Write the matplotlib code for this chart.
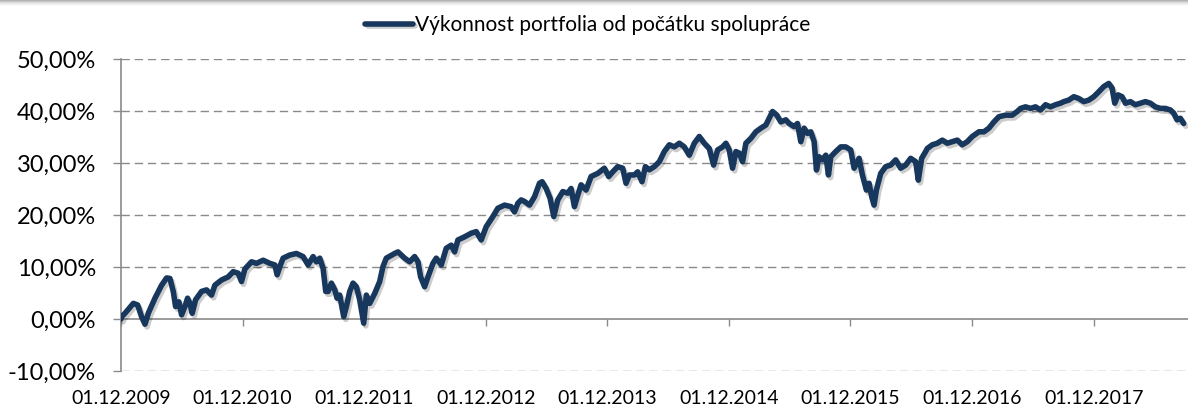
import datetime as dt

import matplotlib
matplotlib.use("Agg")
import matplotlib.pyplot as plt
import matplotlib.dates as mdates
import matplotlib.patches as mpatches
import matplotlib.patheffects as pe

plt.rcParams["font.family"] = ["Lato", "DejaVu Sans"]

# --- data: days since 01.12.2009, cumulative performance in % ---
START = dt.date(2009, 12, 1)
DAYS = [
    0, 2, 12, 37, 50, 62, 72, 82, 102, 122, 137, 147, 157, 164, 174, 182, 192,
    200, 207, 214, 224, 242, 257, 272, 282, 302, 322, 337, 352, 362, 372, 392,
    407, 427, 447, 462, 469, 479, 487, 507, 527, 547, 562, 577, 587, 597, 607,
    615, 622, 632, 642, 649, 657, 669, 677, 687, 697, 707, 717, 729, 737, 747,
    762, 777, 787, 797, 822, 832, 852, 867, 882, 892, 900, 912, 922, 937, 947,
    962, 977, 992, 1002, 1012, 1032, 1052, 1067, 1082, 1097, 1117, 1132, 1152,
    1172, 1182, 1192, 1202, 1212, 1227, 1242, 1257, 1265, 1277, 1289, 1300,
    1312, 1327, 1342, 1352, 1362, 1372, 1382, 1397, 1412, 1432, 1452, 1465,
    1477, 1492, 1507, 1517, 1527, 1542, 1552, 1565, 1575, 1587, 1602, 1617,
    1632, 1647, 1662, 1677, 1692, 1707, 1722, 1737, 1752, 1767, 1780, 1792,
    1807, 1817, 1827, 1837, 1847, 1857, 1867, 1877, 1892, 1907, 1922, 1937,
    1947, 1957, 1970, 1982, 1997, 2007, 2022, 2032, 2042, 2052, 2062, 2072,
    2082, 2089, 2097, 2107, 2117, 2125, 2132, 2147, 2162, 2177, 2192, 2202,
    2217, 2227, 2239, 2247, 2255, 2262, 2269, 2282, 2297, 2312, 2327, 2342,
    2357, 2372, 2387, 2395, 2405, 2417, 2422, 2437, 2452, 2467, 2482, 2497,
    2512, 2527, 2542, 2557, 2577, 2592, 2607, 2622, 2637, 2657, 2677, 2692,
    2702, 2717, 2732, 2747, 2762, 2777, 2792, 2807, 2822, 2832, 2847, 2862,
    2877, 2892, 2907, 2922, 2937, 2952, 2967, 2977, 2985, 2995, 3007, 3017,
    3032, 3047, 3062, 3077, 3092, 3107, 3122, 3137, 3152, 3162, 3172, 3182,
    3192,
]
PERF = [
    0.0, 0.45, 1.1, 3.0, 2.7, 0.4, -1.0, 1.1, 4.0, 6.5, 7.9, 7.8, 5.3, 2.4, 3.3,
    0.8, 2.4, 4.0, 3.0, 1.1, 3.7, 5.3, 5.6, 4.6, 6.5, 7.5, 8.1, 9.1, 8.8, 7.2,
    9.6, 11.0,
    10.7, 11.3, 10.7, 10.4, 8.5, 10.4, 11.7, 12.3, 12.6, 12.0, 10.4, 12.0, 11.0,
    11.7, 9.75, 5.3, 5.3, 6.9, 5.6, 4.0, 4.6, 0.45, 2.4, 5.3, 6.9, 6.2, 3.7,
    -0.8, 4.6, 3.0, 4.9, 7.2, 10.1, 11.7,
    12.6, 12.9, 11.7, 11.0, 12.0, 11.0, 8.1, 6.2, 8.1, 10.7, 11.7, 10.4, 13.6,
    14.2, 12.9, 15.2, 15.8, 16.5, 16.8, 15.2, 17.75, 19.7, 21.3, 21.9, 21.6,
    20.6, 22.25,
    22.9, 22.6, 21.9, 23.5, 26.1, 26.4, 25.1, 23.2, 19.7, 22.9, 24.5, 24.2,
    25.1, 21.6, 23.8, 25.8, 24.8, 27.4, 28.0, 29.0, 27.4, 28.3, 29.3, 29.0,
    26.1, 27.7, 27.7, 28.3, 26.4, 29.3, 28.7, 29.3, 30.25,
    32.2, 33.5, 33.1, 33.8, 33.1, 31.5, 33.8, 35.1, 33.8, 32.8, 29.6, 32.5,
    33.1, 33.8, 32.5, 29.0, 32.2, 31.9, 30.25, 33.8, 34.75, 36.0, 36.7, 37.3,
    38.6, 39.9, 39.2, 37.9, 38.3, 37.6,
    37.0, 37.6, 34.1, 36.7, 35.7, 36.0, 34.1, 28.65, 31.2, 30.6, 31.5, 27.7,
    31.2, 32.2, 33.1, 33.1, 32.5, 29.0, 30.9, 27.7, 24.8, 26.1, 23.5, 21.9,
    24.8, 28.0, 29.3, 29.6, 30.6, 29.0, 29.6, 30.9, 30.25, 26.7, 30.9, 32.2,
    32.8, 33.5, 33.8, 34.4, 33.8, 34.1, 34.4, 33.5, 34.1, 35.1, 36.0, 36.0,
    36.7, 37.9, 38.9, 39.2, 39.2, 39.9, 40.5, 40.8, 40.5, 40.8, 40.2, 41.2,
    40.8, 41.2, 41.5,
    41.8, 42.1, 42.75, 42.4, 41.8, 42.1, 42.75, 43.7, 44.7, 45.3, 44.4, 41.5,
    43.1, 42.75, 41.5, 41.8, 41.2, 41.5, 41.8, 41.5, 40.8, 40.5, 40.5, 40.2,
    39.6, 38.3, 38.6, 37.6,
]
TICK_YEARS = list(range(2009, 2018))
Y_TICKS = [-10, 0, 10, 20, 30, 40, 50]
LABEL = "Výkonnost portfolia od počátku spolupráce"

NAVY = "#18375D"
GRAY = "#8A8A8A"


def main():
    dates = [START + dt.timedelta(days=d) for d in DAYS]

    fig = plt.figure(figsize=(11.88, 4.09), dpi=100)
    ax = fig.add_axes([121 / 1188, 1 - 371 / 409, 1 - 121 / 1188, 312 / 409])

    # faint grey band along the top edge (frame shadow in the original)
    for i, a in enumerate([0.30, 0.22, 0.15, 0.09, 0.05, 0.02]):
        fig.add_artist(mpatches.Rectangle((0, 1 - (i + 1) / 409), 1, 1 / 409,
                                          transform=fig.transFigure, color="black",
                                          alpha=a, linewidth=0))

    for y in Y_TICKS:
        if y != 0:
            ax.axhline(y, color=GRAY, linewidth=1.0, linestyle=(0, (6, 3.5)), zorder=1)

    line, = ax.plot(dates, PERF, color=NAVY, linewidth=4.0, solid_capstyle="round",
                    solid_joinstyle="round", zorder=5, label=LABEL)
    line.set_path_effects([
        pe.SimpleLineShadow(offset=(1.5, -2), shadow_color="black", alpha=0.2),
        pe.Normal(),
    ])

    ax.set_ylim(-10, 50)
    ax.set_xlim(START, START + dt.timedelta(days=3205))
    ax.set_yticks(Y_TICKS)
    ax.yaxis.set_major_formatter(plt.FuncFormatter(lambda v, _: f"{v:.2f}%".replace(".", ",")))
    ax.tick_params(axis="y", direction="out", length=6, width=1.0, color=GRAY,
                   pad=12, labelsize=17, labelcolor="black")

    ticks = [dt.date(y, 12, 1) for y in TICK_YEARS]
    ax.set_xticks(ticks)
    ax.tick_params(axis="x", direction="out", length=5, width=1.0, color=GRAY,
                   labelbottom=False)
    ax.spines["bottom"].set_position(("data", 0))
    for side in ("top", "right"):
        ax.spines[side].set_visible(False)
    for side in ("left", "bottom"):
        ax.spines[side].set_color(GRAY)
        ax.spines[side].set_linewidth(1.2)

    sec = ax.secondary_xaxis("bottom")
    sec.set_xticks(ticks)
    sec.xaxis.set_major_formatter(mdates.DateFormatter("%d.%m.%Y"))
    sec.tick_params(length=0, pad=14, labelsize=14)
    sec.spines["bottom"].set_visible(False)

    fig.legend(handles=[line], loc="center", bbox_to_anchor=(0.495, 1 - 25 / 409),
               frameon=False, fontsize=15, handlelength=2.3, handletextpad=0.1)

    fig.savefig("out.png", dpi=100)
    plt.close(fig)


if __name__ == "__main__":
    main()
